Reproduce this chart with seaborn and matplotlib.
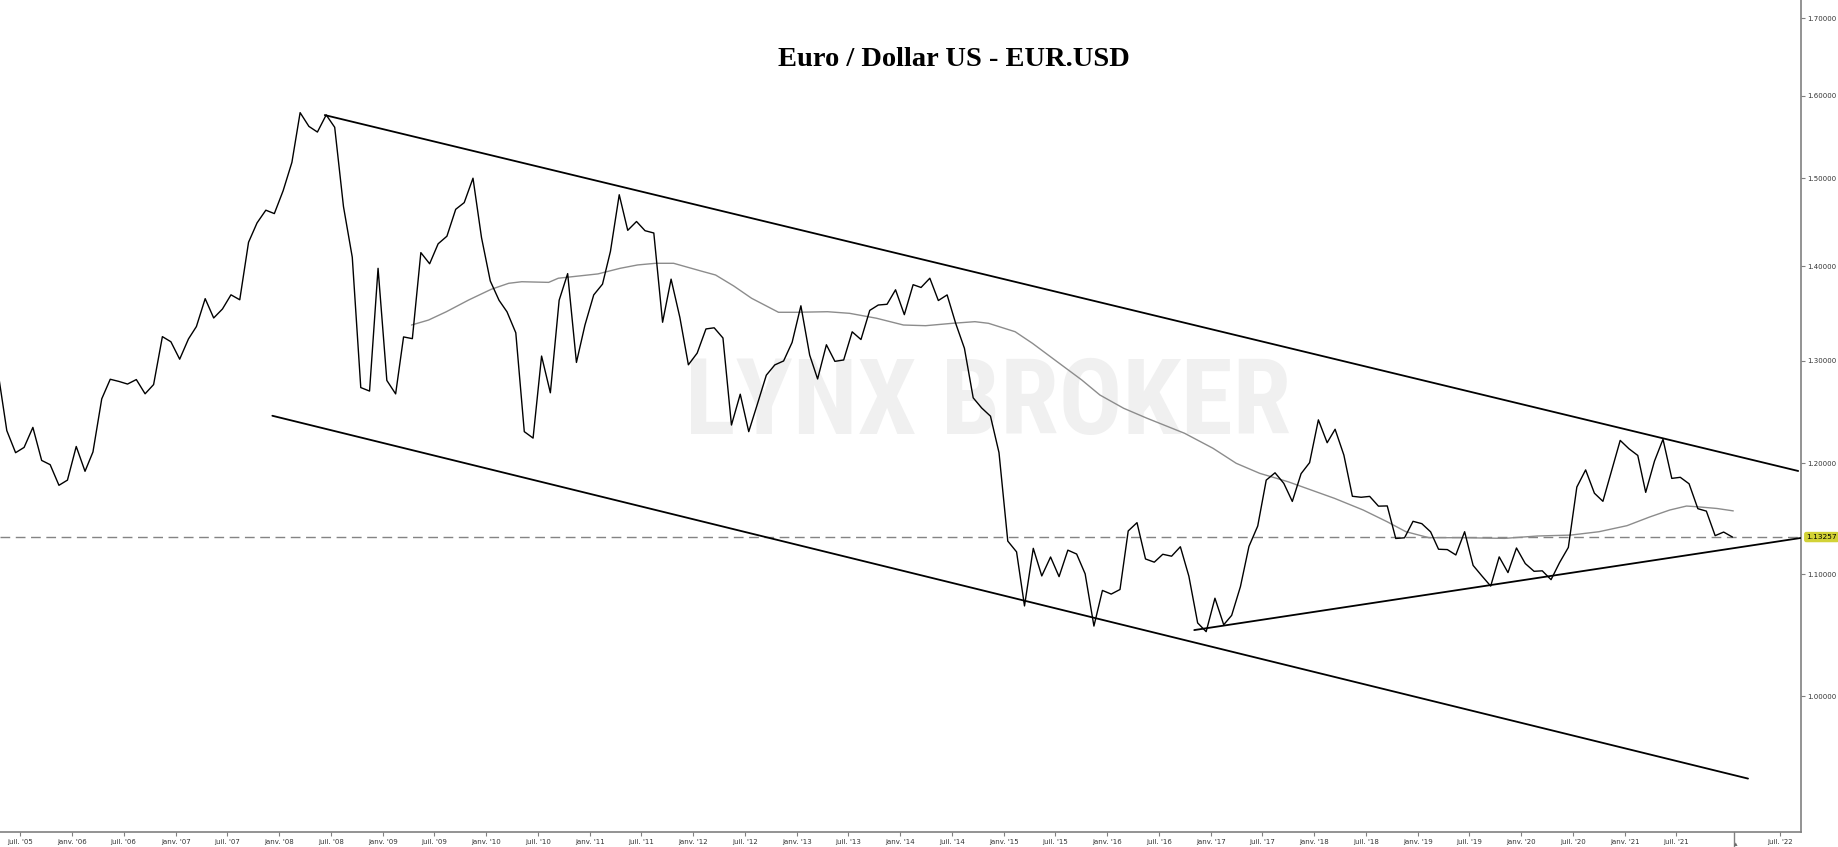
import matplotlib
matplotlib.use("Agg")
import numpy as np
import pandas as pd
import matplotlib.pyplot as plt
import matplotlib.font_manager as fm
import matplotlib.transforms as mtrans
from matplotlib.ticker import FixedLocator, NullLocator
import seaborn as sns

# ---------------- data (monthly closes, EUR/USD) ----------------
first_month = "2005-04-01"
close_2005 = [1.2868, 1.2310, 1.2099, 1.2149, 1.2341, 1.2026, 1.1986, 1.1794, 1.1842]
close_2006 = [1.2158, 1.1924, 1.2106, 1.2620, 1.2815, 1.2793, 1.2767, 1.2812, 1.2670, 1.2762, 1.3250, 1.3197]
close_2007 = [1.3018, 1.3226, 1.3355, 1.3650, 1.3445, 1.3540, 1.3691, 1.3638, 1.4266, 1.4484, 1.4629, 1.4590]
close_2008 = [1.4853, 1.5187, 1.5790, 1.5621, 1.5552, 1.5762, 1.5610, 1.4670, 1.4100, 1.2732, 1.2697, 1.3978]
close_2009 = [1.2803, 1.2669, 1.3247, 1.3229, 1.4151, 1.4028, 1.4249, 1.4334, 1.4639, 1.4716, 1.5000, 1.4319]
close_2010 = [1.3840, 1.3632, 1.3510, 1.3290, 1.2300, 1.2238, 1.3050, 1.2680, 1.3633, 1.3920, 1.2985, 1.3370]
close_2011 = [1.3690, 1.3806, 1.4165, 1.4807, 1.4400, 1.4500, 1.4396, 1.4370, 1.3400, 1.3860, 1.3450, 1.2961]
close_2012 = [1.3080, 1.3330, 1.3342, 1.3236, 1.2364, 1.2666, 1.2300, 1.2573, 1.2856, 1.2960, 1.3000, 1.3190]
close_2013 = [1.3574, 1.3060, 1.2818, 1.3166, 1.2996, 1.3010, 1.3300, 1.3220, 1.3525, 1.3582, 1.3590, 1.3745]
close_2014 = [1.3480, 1.3800, 1.3770, 1.3870, 1.3630, 1.3690, 1.3390, 1.3130, 1.2630, 1.2530, 1.2450, 1.2100]
close_2015 = [1.1290, 1.1195, 1.0731, 1.1226, 1.0986, 1.1150, 1.0980, 1.1210, 1.1176, 1.1004, 1.0563, 1.0862]
close_2016 = [1.0831, 1.0870, 1.1380, 1.1454, 1.1133, 1.1105, 1.1174, 1.1157, 1.1240, 1.0984, 1.0589, 1.0517]
close_2017 = [1.0796, 1.0574, 1.0652, 1.0895, 1.1243, 1.1424, 1.1842, 1.1910, 1.1812, 1.1646, 1.1902, 1.2005]
close_2018 = [1.2414, 1.2194, 1.2323, 1.2076, 1.1693, 1.1684, 1.1692, 1.1603, 1.1605, 1.1313, 1.1319, 1.1466]
close_2019 = [1.1445, 1.1372, 1.1218, 1.1215, 1.1168, 1.1373, 1.1077, 1.0986, 1.0899, 1.1151, 1.1015, 1.1229]
close_2020 = [1.1093, 1.1026, 1.1030, 1.0954, 1.1101, 1.1234, 1.1778, 1.1937, 1.1721, 1.1647, 1.1931, 1.2216]
close_2021 = [1.2136, 1.2073, 1.1729, 1.2020, 1.2227, 1.1858, 1.1868, 1.1808, 1.1580, 1.1558, 1.1338, 1.1370]
close_2022 = [1.13257]
last_price = 1.13257
last_price_label = "1.13257"

# moving average (grey line)
ma_dates = ["2009-04-12", "2009-06-11", "2009-08-13", "2009-10-31", "2010-01-18", "2010-03-21",
            "2010-05-06", "2010-08-09", "2010-09-12", "2011-01-30", "2011-04-18", "2011-06-19",
            "2011-08-21", "2011-10-24", "2012-01-28", "2012-03-20", "2012-05-23", "2012-07-25",
            "2012-10-28", "2012-12-30", "2013-04-19", "2013-07-06", "2013-10-09", "2014-01-12",
            "2014-03-31", "2014-07-04", "2014-09-21", "2014-11-08", "2015-02-10", "2015-04-12",
            "2015-06-30", "2015-10-03", "2015-12-06", "2016-02-28", "2016-05-20", "2016-09-30",
            "2017-01-08", "2017-03-31", "2017-06-22", "2017-09-30", "2018-03-13", "2018-06-22",
            "2018-09-14", "2018-11-20", "2019-02-09", "2019-06-04", "2019-11-03", "2020-02-28",
            "2020-06-23", "2020-10-01", "2021-01-08", "2021-03-29", "2021-06-08", "2021-08-06",
            "2021-09-10", "2021-11-21", "2022-01-18"]
ma_values = [1.3371, 1.3423, 1.3511, 1.3636, 1.3750, 1.3815,
             1.3832, 1.3825, 1.3870, 1.3917, 1.3978, 1.4015,
             1.4033, 1.4033, 1.3949, 1.3905, 1.3786, 1.3654,
             1.3505, 1.3505, 1.3511, 1.3494, 1.3442, 1.3371,
             1.3364, 1.3389, 1.3406, 1.3389, 1.3301, 1.3181,
             1.3010, 1.2808, 1.2658, 1.2527, 1.2430, 1.2284,
             1.2141, 1.1999, 1.1905, 1.1827, 1.1674, 1.1568,
             1.1463, 1.1373, 1.1320, 1.1320, 1.1314, 1.1335,
             1.1343, 1.1373, 1.1427, 1.1505, 1.1568, 1.1604,
             1.1598, 1.1582, 1.1560]

# drawn trend lines (endpoints)
upper_dates = ["2008-06-10", "2022-09-04"]
upper_values = [1.5760, 1.1927]
channel_low_dates = ["2007-12-08", "2022-03-11"]
channel_low_values = [1.2454, 0.9374]
support_dates = ["2016-11-03", "2022-09-12"]
support_values = [1.0530, 1.1317]

now_date = "2022-01-22"

ytick_values = [1.0, 1.1, 1.2, 1.3, 1.4, 1.5, 1.6, 1.7]
ytick_labels = ["1.00000", "1.10000", "1.20000", "1.30000", "1.40000", "1.50000", "1.60000", "1.70000"]

xtick_dates = ["2005-07-01", "2006-01-01", "2006-07-01", "2007-01-01", "2007-07-01", "2008-01-01",
               "2008-07-01", "2009-01-01", "2009-07-01", "2010-01-01", "2010-07-01", "2011-01-01",
               "2011-07-01", "2012-01-01", "2012-07-01", "2013-01-01", "2013-07-01", "2014-01-01",
               "2014-07-01", "2015-01-01", "2015-07-01", "2016-01-01", "2016-07-01", "2017-01-01",
               "2017-07-01", "2018-01-01", "2018-07-01", "2019-01-01", "2019-07-01", "2020-01-01",
               "2020-07-01", "2021-01-01", "2021-07-01", "2022-07-01"]
xtick_labels = ["juil. '05", "janv. '06", "juil. '06", "janv. '07", "juil. '07", "janv. '08",
                "juil. '08", "janv. '09", "juil. '09", "janv. '10", "juil. '10", "janv. '11",
                "juil. '11", "janv. '12", "juil. '12", "janv. '13", "juil. '13", "janv. '14",
                "juil. '14", "janv. '15", "juil. '15", "janv. '16", "juil. '16", "janv. '17",
                "juil. '17", "janv. '18", "juil. '18", "janv. '19", "juil. '19", "janv. '20",
                "juil. '20", "janv. '21", "juil. '21", "juil. '22"]

title = "Euro / Dollar US - EUR.USD"
watermark = "LYNX BROKER"

# ---------------- figure ----------------
sns.set_style("white")
plt.rcParams["font.family"] = ["DejaVu Sans"]

closes = (close_2005 + close_2006 + close_2007 + close_2008 + close_2009 + close_2010 +
          close_2011 + close_2012 + close_2013 + close_2014 + close_2015 + close_2016 +
          close_2017 + close_2018 + close_2019 + close_2020 + close_2021 + close_2022)
dates = pd.date_range(first_month, periods=len(closes), freq="MS") + pd.Timedelta(days=14)
df = pd.DataFrame({"date": dates, "close": closes})
df_ma = pd.DataFrame({"date": pd.to_datetime(ma_dates), "ma": ma_values})

fig = plt.figure(figsize=(18.38, 8.47), dpi=100)
ax = fig.add_axes([0.0, 0.01736, 0.98003, 0.98264])

names = {f.name for f in fm.fontManager.ttflist}
wm_font, wm_size = "Roboto", 62
for cand, size in [("Liberation Sans Narrow", 72), ("Roboto Condensed", 76), ("Open Sans Condensed", 76)]:
    if cand in names:
        wm_font, wm_size = cand, size
        break
ax.text(0.5485, 0.513, watermark, transform=ax.transAxes, ha="center", va="center",
        fontsize=wm_size, fontweight="bold", color="#f0f0f0", family=wm_font, zorder=0)

ax.axhline(last_price, color="#848484", lw=1.0, ls=(0, (7, 4)), zorder=1)

sns.lineplot(data=df_ma, x="date", y="ma", ax=ax, color="#8c8c8c", lw=1.0, legend=False, zorder=2)
sns.lineplot(data=df, x="date", y="close", ax=ax, color="black", lw=1.0, legend=False, zorder=3)
for d, v in [(upper_dates, upper_values), (channel_low_dates, channel_low_values),
             (support_dates, support_values)]:
    sns.lineplot(x=pd.to_datetime(d), y=v, ax=ax, color="black", lw=1.3, legend=False, zorder=3)

ax.set_yscale("log")
ax.set_ylim(0.8988, 1.7246)
ax.set_xlim(pd.Timestamp("2005-04-21"), pd.Timestamp("2022-09-15"))

ax.yaxis.set_major_locator(FixedLocator(ytick_values))
ax.yaxis.set_minor_locator(NullLocator())
ax.set_yticklabels(ytick_labels)
ax.yaxis.tick_right()
ax.xaxis.set_major_locator(FixedLocator(pd.to_datetime(xtick_dates).map(matplotlib.dates.date2num)))
ax.xaxis.set_minor_locator(NullLocator())
ax.set_xticklabels(xtick_labels)
ax.set_xlabel("")
ax.set_ylabel("")

for s in ["left", "top"]:
    ax.spines[s].set_visible(False)
for s in ["right", "bottom"]:
    ax.spines[s].set_color("#808080")
    ax.spines[s].set_linewidth(1.2)

ax.tick_params(axis="x", direction="out", length=3, width=0.8, color="#808080",
               labelsize=5, labelcolor="#333333", pad=1.5, bottom=True)
ax.tick_params(axis="y", which="major", direction="out", length=3, width=0.8, color="#808080",
               labelsize=5, labelcolor="#333333", pad=1.5, right=True, left=False,
               labelright=True, labelleft=False)

# last price tag
ax.text(1.0 + 5.0 / 1801.3, last_price, last_price_label,
        transform=mtrans.blended_transform_factory(ax.transAxes, ax.transData),
        ha="left", va="center", fontsize=5.3, color="black", clip_on=False,
        bbox=dict(boxstyle="round,pad=0.3", fc="#d2d236", ec="none"))

# "now" separator below the axis
nd = matplotlib.dates.date2num(pd.Timestamp(now_date))
ax.plot([nd, nd], [0.0, -0.02], transform=mtrans.blended_transform_factory(ax.transData, ax.transAxes),
        color="#808080", lw=1.0, clip_on=False)
ax.text(nd, -0.014, "\u25b4", transform=mtrans.blended_transform_factory(ax.transData, ax.transAxes),
        ha="left", va="center", fontsize=5, color="#666666", clip_on=False)

fig.text(0.519, 0.9224, title, ha="center", va="baseline", fontsize=20.5, fontweight="bold",
         family=["Liberation Serif", "DejaVu Serif"], color="black")

fig.savefig("out.png", dpi=100, facecolor="white")
